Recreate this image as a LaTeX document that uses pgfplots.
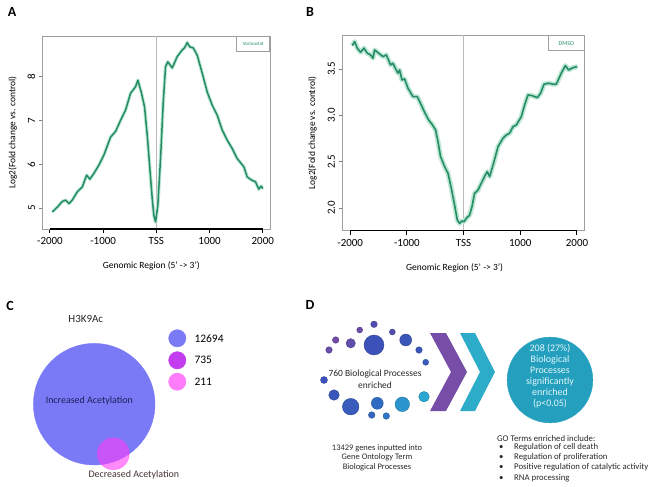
\documentclass[border=0pt]{standalone}
\usepackage{pgfplots}
\usepackage{pgfplotstable}
\pgfplotsset{compat=1.18}
\usepackage{fontspec}
\setmainfont{Carlito}
\definecolor{lineg}{RGB}{38,140,102}
\definecolor{bandg}{RGB}{190,232,212}
\definecolor{cblue}{RGB}{122,122,246}
\definecolor{cpink}{RGB}{255,60,250}
\definecolor{cpinkL}{RGB}{255,125,250}
\definecolor{cpurple}{RGB}{196,60,240}
\definecolor{chevP}{RGB}{118,78,168}
\definecolor{chevT}{RGB}{44,172,200}
\definecolor{bigT}{RGB}{36,160,190}
\definecolor{txt}{RGB}{40,40,40}

\pgfplotstableread{
x y
-1955 4.91
-1861 5.02
-1767 5.15
-1705 5.18
-1643 5.10
-1580 5.18
-1486 5.37
-1392 5.48
-1311 5.75
-1249 5.66
-1174 5.79
-1080 5.98
-986 6.21
-860 6.62
-766 6.75
-685 6.97
-578 7.24
-485 7.62
-391 7.77
-347 7.92
-278 7.62
-222 7.31
-171 6.66
-122 5.90
-77 5.21
-47 4.83
-15 4.68
28 5.06
79 6.13
130 7.43
173 8.23
216 8.34
298 8.20
392 8.46
486 8.61
530 8.66
580 8.78
629 8.68
693 8.66
768 8.49
862 8.08
956 7.65
1050 7.35
1144 7.12
1238 6.78
1332 6.55
1425 6.36
1519 6.13
1645 5.94
1707 5.71
1801 5.63
1863 5.60
1925 5.43
1970 5.50
2000 5.44
}\dataA

\pgfplotstableread{
x y
-1963 3.753
-1922 3.796
-1875 3.725
-1817 3.681
-1757 3.725
-1699 3.671
-1640 3.652
-1598 3.617
-1570 3.706
-1499 3.671
-1422 3.634
-1364 3.652
-1288 3.544
-1246 3.562
-1205 3.509
-1157 3.455
-1129 3.490
-1087 3.382
-1041 3.393
-981 3.293
-893 3.202
-817 3.202
-746 3.112
-688 3.033
-617 2.950
-557 2.904
-494 2.842
-452 2.716
-406 2.554
-335 2.446
-275 2.375
-217 2.213
-159 2.032
-111 1.870
-71 1.835
-28 1.860
7 1.852
48 1.889
106 1.924
148 2.014
194 2.159
254 2.194
312 2.267
383 2.356
418 2.392
459 2.338
536 2.500
607 2.662
695 2.753
753 2.788
811 2.807
872 2.878
930 2.896
1018 2.986
1076 3.112
1136 3.220
1207 3.213
1300 3.191
1358 3.239
1418 3.336
1499 3.347
1577 3.336
1635 3.336
1723 3.455
1794 3.537
1852 3.490
1930 3.515
2006 3.526
}\dataB

\pgfplotstableread{
x y r c
374 324.3 3.3 0.2
359.7 330 3 0.05
392.3 332 3 0.2
350.7 343.3 4.7 0.1
335.7 340 3.3 0.0
374 345 10 0.35
405.7 340 6 0.4
419 350 3.3 0.4
425.7 362.3 3 0.45
329 350 3.3 0.05
324 380 3.5 0.35
334 395 5.3 0.4
350.7 406.7 8.3 0.45
377.3 403.3 6 0.6
402.3 404.3 7.3 0.85
424 396.7 5.3 0.95
371.7 415 3.3 0.55
386.3 416 3.3 0.7
}\dotsD

\pgfplotsset{
  rplot/.style={
    anchor=south west, scale only axis,
    xmin=-2136, xmax=2136,
    xtick={-2000,-1000,0,1000,2000},
    xticklabels={-2000,-1000,TSS,1000,2000},
    tick align=outside, major tick length=4bp,
    xtick pos=bottom, ytick pos=left,
    axis line style={draw=gray!75, line width=0.8bp},
    x tick style={black, line width=1bp},
    y tick style={gray, line width=0.6bp},
    ticklabel style={font=\fontsize{11}{11}\selectfont, text=black},
    xticklabel style={yshift=-1bp},
    yticklabel style={rotate=90, anchor=south},
    /pgf/number format/assume math mode=true,
    label style={font=\fontsize{9.5}{10}\selectfont},
    clip mode=individual,
  },
  overlay/.style={at={(0bp,0bp)}, anchor=south west, width=648bp, height=487bp, scale only axis,
    xmin=0, xmax=648, ymin=0, ymax=487, y dir=reverse, hide axis, clip=false},
  dot/.style={only marks, mark=*, mark size=#1},
}

\begin{document}
\begin{tikzpicture}
\path[use as bounding box] (0,0) rectangle (648bp,487bp);

% Panel A
\begin{axis}[rplot, at={(42.7bp,258bp)}, width=227.3bp, height=193bp,
  ymin=4.52, ymax=8.93, ytick={5,6,7,8}, yticklabels={5,6,7,8},
  xlabel={Genomic Region (5’ -> 3’)}, ylabel={Log2(Fold change vs. control)},
  x label style={at={(rel axis cs:0.5,-0.19)}, anchor=center, xshift=-5bp},
  y label style={at={(rel axis cs:-0.132,0.5)}, anchor=center}]
\draw[gray!55, line width=0.8bp] (axis cs:0,4.52) -- (axis cs:0,8.93);
\addplot[bandg, line width=3.5bp, line join=round] table {\dataA};
\addplot[lineg, line width=1.5bp, line join=round] table {\dataA};
\draw[black, line width=1.2bp] (axis cs:-2000,4.52) -- (axis cs:2000,4.52);
\node[draw=gray!75, line width=0.6bp, anchor=north east, minimum width=33bp, minimum height=15bp, inner sep=1bp, text=lineg, font=\fontsize{5}{5}\selectfont] at (rel axis cs:1,1) {Vorinostat};
\end{axis}

% Panel B
\begin{axis}[rplot, at={(342.5bp,256.3bp)}, width=242.2bp, height=195.4bp,
  ymin=1.755, ymax=3.864, ytick={2,2.5,3,3.5}, yticklabels={2.0,2.5,3.0,3.5},
  xlabel={Genomic Region (5’ -> 3’)}, ylabel={Log2(Fold change vs. control)},
  x label style={at={(rel axis cs:0.5,-0.19)}, anchor=center, xshift=-9bp},
  y label style={at={(rel axis cs:-0.124,0.5)}, anchor=center}]
\draw[gray!55, line width=0.8bp] (axis cs:0,1.755) -- (axis cs:0,3.864);
\addplot[bandg, line width=5bp, line join=round] table {\dataB};
\addplot[lineg, line width=1.6bp, line join=round] table {\dataB};
\draw[black, line width=1.2bp] (axis cs:-2000,1.755) -- (axis cs:2000,1.755);
\node[draw=gray!75, line width=0.6bp, anchor=north east, minimum width=36bp, minimum height=15bp, inner sep=1bp, text=lineg, font=\fontsize{6}{6}\selectfont] at (rel axis cs:1,1) {DMSO};
\end{axis}

% Overlay 1: shapes of panels C and D
\begin{axis}[overlay]
\addplot[cblue, dot=61, mark options={fill=cblue, draw=cblue}] coordinates {(94.2,404.2)};
\addplot[cpink, dot=16, mark options={fill=cpink, draw=cpink, opacity=0.6}] coordinates {(113.3,453.8)};
\addplot[cblue, dot=8.7, mark options={fill=cblue, draw=cblue}] coordinates {(177.3,338.3)};
\addplot[cpurple, dot=8.7, mark options={fill=cpurple, draw=cpurple}] coordinates {(177.3,360.3)};
\addplot[cpinkL, dot=8.7, mark options={fill=cpinkL, draw=cpinkL}] coordinates {(177.3,381.7)};
\addplot[scatter, only marks, mark=*, point meta=\thisrow{c}, point meta min=0, point meta max=1,
  colormap={dd}{rgb255=(112,76,166) rgb255=(62,80,184) rgb255=(46,112,196) rgb255=(42,176,210)},
  visualization depends on={\thisrow{r} \as \rad},
  scatter/@pre marker code/.append style={/tikz/mark size=\rad},
  mark options={draw=none}] table[x=x,y=y] {\dotsD};
\addplot[fill=chevP, draw=none] coordinates {(430,333) (446,333) (467,372) (446,411) (430,411) (451,372)};
\addplot[fill=chevT, draw=none] coordinates {(460,333) (475,333) (495,372) (475,411) (460,411) (480,372)};
\addplot[bigT, dot=43, mark options={fill=bigT, draw=bigT}] coordinates {(550,380)};
\end{axis}

% Overlay 2: texts
\begin{axis}[overlay]
\node[font=\fontsize{14}{14}\selectfont\bfseries] at (axis cs:12,12) {A};
\node[font=\fontsize{14}{14}\selectfont\bfseries] at (axis cs:310,12) {B};
\node[font=\fontsize{14}{14}\selectfont\bfseries] at (axis cs:10,306) {C};
\node[font=\fontsize{14}{14}\selectfont\bfseries] at (axis cs:310,305) {D};
\node[font=\fontsize{11}{11}\selectfont, text=txt] at (axis cs:85.8,319) {H3K9Ac};
\node[font=\fontsize{11.5}{11.5}\selectfont, anchor=west] at (axis cs:191,338.3) {12694};
\node[font=\fontsize{11.5}{11.5}\selectfont, anchor=west] at (axis cs:191,360.3) {735};
\node[font=\fontsize{11.5}{11.5}\selectfont, anchor=west] at (axis cs:191,381.7) {211};
\node[font=\fontsize{10}{10}\selectfont, text={rgb,255:red,30;green,30;blue,90}] at (axis cs:89.3,401) {Increased Acetylation};
\node[font=\fontsize{10}{10}\selectfont, text={rgb,255:red,70;green,50;blue,50}] at (axis cs:133.8,475) {Decreased Acetylation};
\node[font=\fontsize{10}{11}\selectfont, text={rgb,255:red,225;green,245;blue,250}, align=center] at (axis cs:550,376) {208 (27\%)\\Biological\\Processes\\significantly\\enriched\\(p<0.05)};
\node[font=\fontsize{9.5}{12}\selectfont, text=txt, align=center] at (axis cs:375,379.5) {760 Biological Processes\\enriched};
\node[font=\fontsize{8.5}{9.5}\selectfont, text=txt, align=center] at (axis cs:377,457.5) {13429 genes inputted into\\Gene Ontology Term\\Biological Processes};
\node[font=\fontsize{8.8}{9}\selectfont, text=txt, anchor=west, inner sep=0pt] at (axis cs:497,438.3) {GO Terms enriched include:};
\node[font=\fontsize{8.8}{9}\selectfont, text=txt, inner sep=0pt] at (axis cs:501.3,447.5) {\textbullet};
\node[font=\fontsize{8.8}{9}\selectfont, text=txt, inner sep=0pt] at (axis cs:501.3,457.3) {\textbullet};
\node[font=\fontsize{8.8}{9}\selectfont, text=txt, inner sep=0pt] at (axis cs:501.3,467.3) {\textbullet};
\node[font=\fontsize{8.8}{9}\selectfont, text=txt, inner sep=0pt] at (axis cs:501.3,478.3) {\textbullet};
\node[font=\fontsize{8.8}{9}\selectfont, text=txt, anchor=west, inner sep=0pt] at (axis cs:514,447.5) {Regulation of cell death};
\node[font=\fontsize{8.8}{9}\selectfont, text=txt, anchor=west, inner sep=0pt] at (axis cs:514,457.3) {Regulation of proliferation};
\node[font=\fontsize{8.8}{9}\selectfont, text=txt, anchor=west, inner sep=0pt] at (axis cs:514,467.3) {Positive regulation of catalytic activity};
\node[font=\fontsize{8.8}{9}\selectfont, text=txt, anchor=west, inner sep=0pt] at (axis cs:514,478.3) {RNA processing};
\end{axis}
\end{tikzpicture}
\end{document}
